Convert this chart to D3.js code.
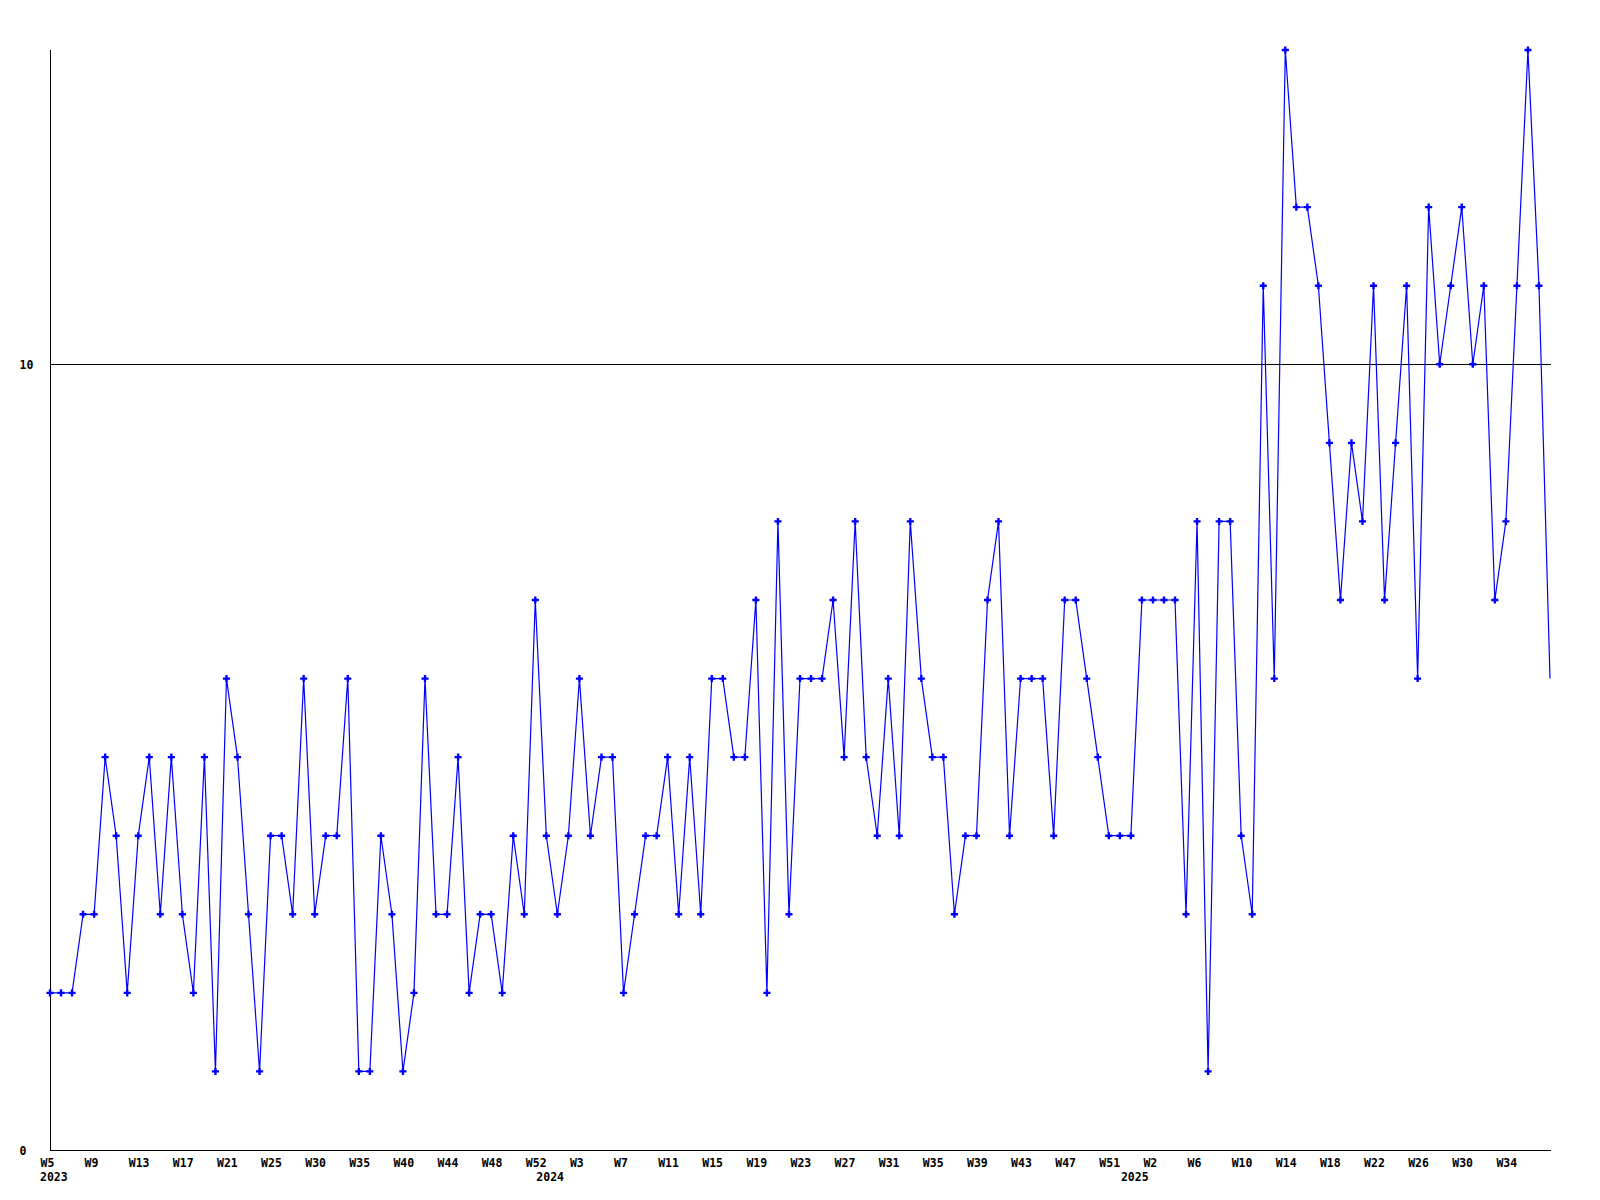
<!DOCTYPE html>
<html>
<head>
<meta charset="utf-8">
<script src="https://cdn.jsdelivr.net/npm/d3@7"></script>
<style>
  body { margin: 0; background: #fff; }
  .lbl { font-family: "DejaVu Sans Mono", "Liberation Mono", monospace; font-size: 11.5px; font-weight: bold; fill: #000; }
</style>
</head>
<body>
<svg id="chart"></svg>
<script>
// weekly values, 2023 W5 .. 2025 W38
var values = [2,2,2,3,3,5,4,2,4,5,3,5,3,2,5,1,6,5,3,1,4,4,3,
    6,3,4,4,6,1,1,4,3,1,2,6,3,3,5,2,3,3,2,4,3,7,4,3,
    4,6,4,5,5,2,3,4,4,5,3,5,3,6,6,5,5,7,2,8,3,6,6,
    6,7,5,8,5,4,6,4,8,6,5,5,3,4,4,7,8,4,6,6,6,4,7,7,
    6,5,4,4,4,7,7,7,7,3,8,1,8,8,4,3,11,6,
    14,12,12,11,9,7,9,8,11,7,9,11,6,12,10,11,12,10,11,7,8,11,14,11,6];

// one label every 4th point
var weekLabels = ["W5","W9","W13","W17","W21","W25","W30","W35","W40","W44","W48","W52",
    "W3","W7","W11","W15","W19","W23","W27","W31","W35","W39","W43","W47","W51",
    "W2","W6","W10","W14","W18","W22","W26","W30","W34"];
var years = ["2023", "2024", "2025"];
var yearStart = [0, 45, 98];   // index of first point of each year
var yTicks = [0, 10];

var width = 1600, height = 1200;
var plotLeft = 50, plotRight = 1550, plotTop = 50, plotBottom = 1150;

var svg = d3.select("#chart").attr("width", width).attr("height", height);

var x = d3.scaleLinear().domain([0, values.length - 1]).range([plotLeft, plotRight]);
var y = d3.scaleLinear().domain([0, 14]).range([plotBottom, plotTop]);

// reference line at 10
svg.append("line")
    .attr("x1", plotLeft).attr("x2", plotRight + 1)
    .attr("y1", y(10) + 0.5).attr("y2", y(10) + 0.5)
    .attr("stroke", "#000").attr("shape-rendering", "crispEdges");

// axes
var yAxis = d3.axisLeft(y).tickValues(yTicks).tickSize(0).tickFormat(d3.format("d"));
svg.append("g")
    .attr("transform", "translate(" + (plotLeft + 0.5) + ",0)")
    .call(yAxis)
    .call(function (g) {
        g.select(".domain").attr("d", "M0," + plotTop + "V" + (plotBottom + 0.5)).attr("stroke", "#000").attr("shape-rendering", "crispEdges");
        g.selectAll("text").attr("class", "lbl").attr("text-anchor", "start").attr("x", -31).attr("dy", "0.35em");
    });

var tickIdx = weekLabels.map(function (d, i) { return i * 4; });
var xAxis = d3.axisBottom(x).tickValues(tickIdx).tickSize(0)
    .tickFormat(function (d, i) { return weekLabels[i]; });
svg.append("g")
    .attr("transform", "translate(0," + (plotBottom + 0.5) + ")")
    .call(xAxis)
    .call(function (g) {
        g.select(".domain").attr("d", "M" + plotLeft + ",0H" + (plotRight + 1)).attr("stroke", "#000").attr("shape-rendering", "crispEdges");
        g.selectAll("text").attr("class", "lbl").attr("text-anchor", "start").attr("x", -10).attr("y", 8).attr("dy", "0.71em");
    });

svg.selectAll(".year")
    .data(years)
    .enter()
    .append("text")
    .attr("class", "lbl year")
    .attr("x", function (d, i) { return x(yearStart[i]) - 10; })
    .attr("y", plotBottom + 23)
    .attr("dy", "0.71em")
    .text(function (d) { return d; });

// series
var line = d3.line()
    .x(function (d, i) { return x(i); })
    .y(function (d) { return y(d); });

svg.append("path")
    .datum(values)
    .attr("fill", "none")
    .attr("stroke", "#0000ff")
    .attr("stroke-width", 1.2)
    .attr("d", line);

// markers (none on the last, unfinished week)
svg.selectAll(".pt")
    .data(values.slice(0, values.length - 1))
    .enter()
    .append("path")
    .attr("class", "pt")
    .attr("d", d3.symbol().type(d3.symbolCross).size(28))
    .attr("fill", "#0000ff")
    .attr("transform", function (d, i) { return "translate(" + x(i) + "," + y(d) + ")"; });
</script>
</body>
</html>
